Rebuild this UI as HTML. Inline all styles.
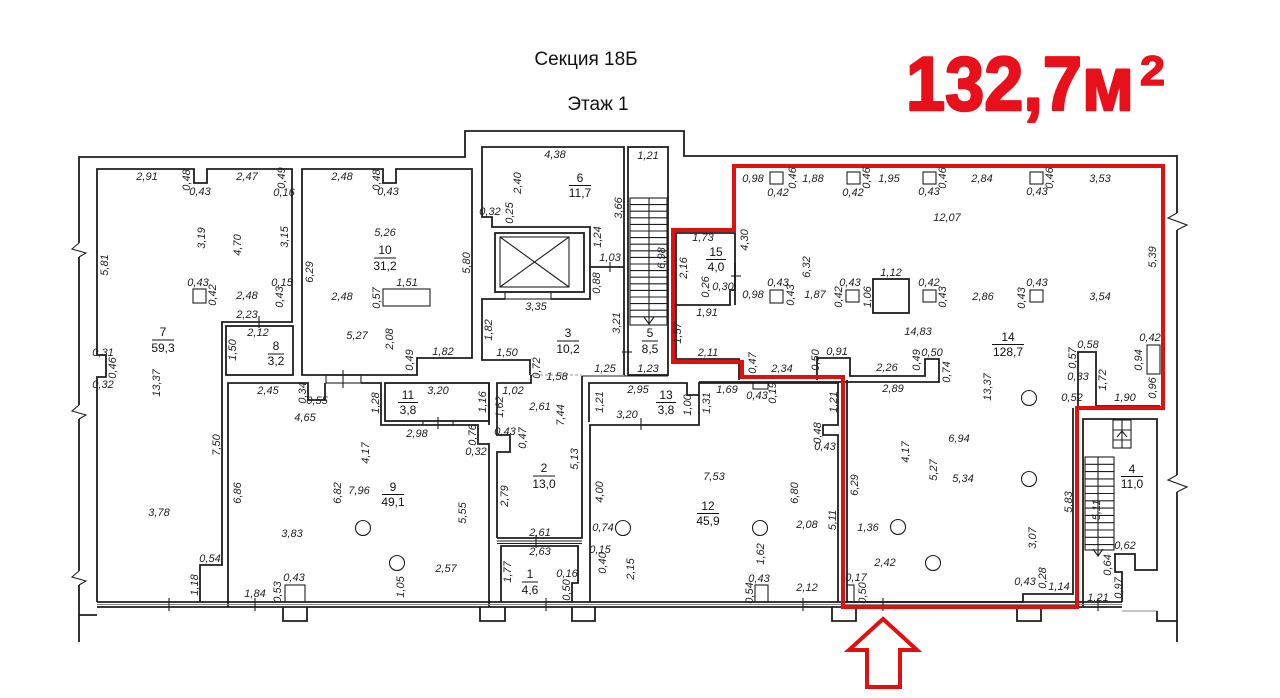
<!DOCTYPE html>
<html><head><meta charset="utf-8">
<style>
html,body{margin:0;padding:0;background:#fff;}
svg{display:block;}
.d{font-family:"Liberation Sans",sans-serif;font-style:italic;font-size:11px;text-anchor:middle;dominant-baseline:central;fill:#222;}
.r{font-family:"Liberation Sans",sans-serif;font-size:12px;text-anchor:middle;dominant-baseline:central;fill:#111;}
.w{fill:none;stroke:#1e1e1e;stroke-width:1.8;}
.t{fill:none;stroke:#1e1e1e;stroke-width:1.1;}
.g{fill:none;stroke:#888;stroke-width:1;}
</style></head>
<body>
<svg width="1280" height="698" viewBox="0 0 1280 698" xmlns="http://www.w3.org/2000/svg">
<rect width="1280" height="698" fill="#fff"/>

<!-- titles -->
<text x="586" y="65" font-family="Liberation Sans, sans-serif" font-size="19" text-anchor="middle" fill="#111">Секция 18Б</text>
<text x="598" y="110" font-family="Liberation Sans, sans-serif" font-size="19" text-anchor="middle" fill="#111">Этаж 1</text>
<text x="906" y="110" font-family="Liberation Sans, sans-serif" font-weight="bold" font-size="76" fill="#e8101a" stroke="#e8101a" stroke-width="2.5" stroke-linejoin="round" textLength="228" lengthAdjust="spacingAndGlyphs">132,7м</text>
<text x="1140" y="85" font-family="Liberation Sans, sans-serif" font-weight="bold" font-size="42" fill="#e8101a" stroke="#e8101a" stroke-width="1.5" stroke-linejoin="round" textLength="25" lengthAdjust="spacingAndGlyphs">2</text>

<!-- outer building -->
<path class="w" d="M79,642 V157 H465 V131 H684 V156 H1177 V642"/>
<path class="w" d="M79,615 H97"/>
<!-- zigzags -->
<g>
<line x1="79" y1="243" x2="79" y2="257" stroke="#fff" stroke-width="4"/>
<polyline class="t" points="79,243 72,249 86,253 79,257"/>
<line x1="79" y1="405" x2="79" y2="419" stroke="#fff" stroke-width="4"/>
<polyline class="t" points="79,405 72,411 86,415 79,419"/>
<line x1="79" y1="571" x2="79" y2="585" stroke="#fff" stroke-width="4"/>
<polyline class="t" points="79,571 72,577 86,581 79,585"/>
<line x1="1177" y1="213" x2="1177" y2="230" stroke="#fff" stroke-width="4"/>
<polyline class="t" points="1177,213 1168,218 1187,225 1177,230"/>
<line x1="1177" y1="475" x2="1177" y2="492" stroke="#fff" stroke-width="4"/>
<polyline class="t" points="1177,475 1168,480 1187,487 1177,492"/>
</g>

<!-- Room 7 -->
<path class="w" d="M97,602 V377 H106 V355 H97 V169 H194 V183 H207 V169 H292 V322 H222 V565 H200 V602"/>
<rect class="t" x="193" y="289" width="13" height="14"/>
<line class="t" x1="259" y1="316" x2="259" y2="328"/>
<!-- Room 8 -->
<rect class="w" x="226" y="326" width="67" height="49"/>
<!-- Room 10 -->
<path class="w" d="M302,375 V169 H383 V183 H396 V169 H472 V358 H417 V375 Z"/>
<rect class="t" x="383" y="289" width="47" height="17"/>
<!-- door 10/9 -->
<rect class="t" x="326" y="375" width="35" height="8"/>
<line class="t" x1="343" y1="370" x2="343" y2="388"/>
<!-- Room 9 -->
<path class="w" d="M228,607 V383 H308 V400 H325 V383 M361,383 H381 V425 H478 V444 H489 V607"/>
<circle class="t" cx="363" cy="528" r="7.5"/>
<circle class="t" cx="397" cy="563" r="7.5"/>
<rect class="t" x="285" y="585" width="20" height="17"/>
<!-- Room 11 -->
<rect class="w" x="385" y="383" width="104" height="38"/>
<line class="t" x1="438" y1="417" x2="438" y2="429"/>
<line class="t" x1="423" y1="421" x2="423" y2="425"/>
<line class="t" x1="453" y1="421" x2="453" y2="425"/>

<!-- Room 6 -->
<path class="w" d="M624,267 H590 V227 H492 V217 H482 V147 H624 V375"/>
<line class="t" x1="610" y1="262" x2="610" y2="272"/>
<!-- shaft -->
<path class="w" d="M590,267 V299 H551 M505,299 H482 V360 H530 V375"/>
<rect class="w" x="495" y="233" width="89" height="59"/>
<rect class="t" x="500" y="237" width="69" height="50"/>
<line class="t" x1="500" y1="237" x2="569" y2="287"/>
<line class="t" x1="569" y1="237" x2="500" y2="287"/>
<rect class="t" x="505" y="292" width="46" height="7"/>
<line x1="530" y1="375" x2="582" y2="375" stroke="#999" stroke-width="1" stroke-dasharray="3,2"/>
<!-- Room 5 stairs -->
<rect class="w" x="628" y="147" width="40" height="228"/>
<g class="t">
<rect x="630" y="198" width="37" height="127" class="t"/>
<path class="t" d="M630,204.6H667M630,211.2H667M630,217.8H667M630,224.4H667M630,231H667M630,237.6H667M630,244.2H667M630,250.8H667M630,257.4H667M630,264H667M630,270.6H667M630,277.2H667M630,283.8H667M630,290.4H667M630,297H667M630,303.6H667M630,310.2H667M630,316.8H667"/>
<line class="t" x1="649" y1="198" x2="649" y2="324"/>
<polyline class="t" points="644,317 649,324 654,317"/>
</g>
<line class="t" x1="622" y1="352" x2="632" y2="352"/>
<path class="t" d="M582,376 H668 M625,375 V376"/>

<!-- Room 15 -->
<path class="w" d="M676,305 V233 H735 V290 H730 V305 Z"/>
<line class="t" x1="731" y1="276" x2="741" y2="276"/>
<path class="w" d="M676,305 V359 H739 V380"/>
<path class="w" d="M735,263 V305"/>

<!-- Room 14 columns -->
<g class="t">
<rect x="770" y="172" width="13" height="12"/>
<rect x="847" y="172" width="13" height="12"/>
<rect x="923" y="172" width="13" height="12"/>
<rect x="1030" y="172" width="13" height="12"/>
<rect x="770" y="290" width="13" height="13"/>
<rect x="846" y="290" width="13" height="12"/>
<rect x="923" y="290" width="13" height="12"/>
<rect x="1030" y="290" width="13" height="12"/>
<rect x="873" y="279" width="36" height="34" class="w"/>
<rect x="1147" y="345" width="13" height="29"/>
</g>
<path class="w" d="M817,380 V358 H850 V376 H925 V359 H939 V382 H699"/>
<path class="w" d="M1078,406 V352 H1096 V406 H1160"/>
<path class="w" d="M847,380 V602 H1023 V594 H1073 V408"/>
<rect class="t" x="847" y="585" width="7" height="17"/>
<circle class="t" cx="1029" cy="398" r="7.5"/>
<circle class="t" cx="1029" cy="479" r="7.5"/>
<circle class="t" cx="898" cy="527" r="7.5"/>
<circle class="t" cx="933" cy="563" r="7.5"/>

<!-- Room 12 -->
<path class="w" d="M590,602 V425 H699 V383 H838 V425 H823 V435 H838 V602"/>
<rect class="t" x="753" y="383" width="15" height="6"/>
<rect class="t" x="755" y="585" width="13" height="17"/>
<circle class="t" cx="623" cy="528" r="7.5"/>
<circle class="t" cx="760" cy="528" r="7.5"/>
<!-- Room 13 -->
<path class="w" d="M589,422 V383 H687 V395 H699"/>
<line class="t" x1="641" y1="418" x2="641" y2="430"/>
<!-- Room 2 -->
<path class="w" d="M497,538 V452 H510 V435 H497 V383 H531 V375 M582,376 V538 H497"/>
<path class="t" d="M497,541 H582 M497,543.5 H582"/>
<line class="t" x1="536" y1="535" x2="536" y2="548"/>
<!-- Room 1 -->
<path class="w" d="M501,602 V546 H578 V583 H572 V602"/>
<!-- room 9 right / room 11 right -->
<path class="w" d="M489,383 V425"/>

<!-- Room 4 -->
<path class="w" d="M1083,607 V419 H1157 V570 H1135 V554 H1115 V572 H1122 V602"/>
<rect class="t" x="1085" y="457" width="29" height="93"/>
<path class="t" d="M1085,464.3H1114M1085,471.6H1114M1085,478.9H1114M1085,486.2H1114M1085,493.5H1114M1085,500.8H1114M1085,508.1H1114M1085,515.4H1114M1085,522.7H1114M1085,530H1114M1085,537.3H1114M1085,544.6H1114"/>
<line class="t" x1="1098" y1="457" x2="1098" y2="556"/>
<polyline class="t" points="1093,549 1098,556 1103,549"/>
<rect class="t" x="1113" y="420" width="18" height="28"/>
<path class="t" d="M1113,430H1131M1113,440H1131M1122,420V448"/>
<polyline class="t" points="1117,437 1122,431 1127,437"/>

<!-- facade -->
<path class="w" d="M97,602 H1122 M97,607 H1122"/>
<path class="g" d="M97,604.5 H1122"/>
<g class="t">
<line x1="169" y1="598" x2="169" y2="611"/>
<line x1="255" y1="598" x2="255" y2="611"/>
<line x1="546" y1="598" x2="546" y2="611"/>
<line x1="803" y1="598" x2="803" y2="611"/>
<line x1="883" y1="598" x2="883" y2="611"/>
<line x1="1098" y1="598" x2="1098" y2="611"/>
</g>
<path class="w" d="M283,607 V621 H307 V607 M480,607 V621 H505 V607 M572,607 V621 H595 V607 M832,607 V621 H856 V607 M1017,607 V621 H1041 V607"/>
<path class="g" d="M1122,611 H1157"/>
<path class="w" d="M1157,611 V621 H1177"/>

<!-- red boundary -->
<path d="M673,230 H734 V166 H1163 V408 H1077 V607 H843 V377 H742 V362 H673 Z" fill="none" stroke="#e01010" stroke-width="4" stroke-linejoin="miter"/>
<!-- red arrow -->
<path d="M883,619 L849,650 L867,650 L867,687 L900,687 L900,650 L917,650 Z" fill="#fff" stroke="#e01010" stroke-width="4" stroke-linejoin="miter"/>

<!-- room labels -->
<g class="r">
<text x="163" y="332">7</text><text x="163" y="348">59,3</text>
<text x="276" y="346">8</text><text x="276" y="361">3,2</text>
<text x="385" y="250">10</text><text x="385" y="266">31,2</text>
<text x="580" y="178">6</text><text x="580" y="193">11,7</text>
<text x="568" y="333">3</text><text x="568" y="349">10,2</text>
<text x="650" y="333">5</text><text x="650" y="349">8,5</text>
<text x="716" y="252">15</text><text x="716" y="267">4,0</text>
<text x="1008" y="337">14</text><text x="1008" y="352">128,7</text>
<text x="408" y="395">11</text><text x="408" y="410">3,8</text>
<text x="393" y="487">9</text><text x="393" y="502">49,1</text>
<text x="544" y="468">2</text><text x="544" y="484">13,0</text>
<text x="530" y="574">1</text><text x="530" y="590">4,6</text>
<text x="666" y="395">13</text><text x="666" y="410">3,8</text>
<text x="708" y="506">12</text><text x="708" y="521">45,9</text>
<text x="1132" y="469">4</text><text x="1132" y="484">11,0</text>
</g>
<g stroke="#111" stroke-width="1">
<line x1="152" y1="340" x2="174" y2="340"/>
<line x1="268" y1="354" x2="284" y2="354"/>
<line x1="374" y1="258" x2="396" y2="258"/>
<line x1="569" y1="185.5" x2="591" y2="185.5"/>
<line x1="557" y1="341" x2="579" y2="341"/>
<line x1="642" y1="341" x2="658" y2="341"/>
<line x1="706" y1="259.5" x2="726" y2="259.5"/>
<line x1="992" y1="344.5" x2="1024" y2="344.5"/>
<line x1="398" y1="402.5" x2="418" y2="402.5"/>
<line x1="382" y1="494.5" x2="404" y2="494.5"/>
<line x1="533" y1="476" x2="555" y2="476"/>
<line x1="522" y1="582" x2="538" y2="582"/>
<line x1="656" y1="402.5" x2="676" y2="402.5"/>
<line x1="697" y1="513.5" x2="719" y2="513.5"/>
<line x1="1121" y1="476.5" x2="1143" y2="476.5"/>
</g>

<!-- horizontal dimension labels -->
<g class="d">
<text x="147" y="177">2,91</text><text x="200" y="192">0,43</text><text x="247" y="177">2,47</text><text x="284" y="193">0,16</text>
<text x="198" y="283">0,43</text><text x="247" y="296">2,48</text><text x="282" y="283">0,15</text><text x="247" y="315">2,23</text>
<text x="103" y="353">0,31</text><text x="103" y="385">0,32</text><text x="258" y="333">2,12</text>
<text x="342" y="177">2,48</text><text x="388" y="192">0,43</text><text x="385" y="233">5,26</text><text x="407" y="283">1,51</text>
<text x="342" y="297">2,48</text><text x="357" y="336">5,27</text><text x="443" y="352">1,82</text>
<text x="555" y="155">4,38</text><text x="490" y="212">0,32</text><text x="610" y="258">1,03</text><text x="536" y="307">3,35</text>
<text x="507" y="353">1,50</text><text x="557" y="377">1,58</text><text x="605" y="369">1,25</text><text x="648" y="156">1,21</text><text x="648" y="369">1,23</text>
<text x="703" y="238">1,73</text><text x="723" y="287">0,30</text><text x="707" y="313">1,91</text><text x="708" y="353">2,11</text>
<text x="782" y="369">2,34</text><text x="837" y="352">0,91</text>
<text x="753" y="179">0,98</text><text x="778" y="193">0,42</text><text x="813" y="179">1,88</text><text x="853" y="193">0,42</text>
<text x="753" y="295">0,98</text><text x="778" y="283">0,43</text><text x="815" y="295">1,87</text><text x="850" y="283">0,43</text>
<text x="889" y="179">1,95</text><text x="929" y="192">0,43</text><text x="982" y="179">2,84</text><text x="1037" y="192">0,43</text><text x="1100" y="179">3,53</text>
<text x="947" y="218">12,07</text><text x="891" y="273">1,12</text><text x="929" y="283">0,42</text><text x="983" y="297">2,86</text><text x="1037" y="283">0,43</text><text x="1100" y="297">3,54</text>
<text x="918" y="332">14,83</text><text x="1150" y="338">0,42</text><text x="1088" y="345">0,58</text><text x="1078" y="377">0,33</text>
<text x="1072" y="398">0,52</text><text x="1125" y="398">1,90</text><text x="887" y="368">2,26</text><text x="932" y="353">0,50</text><text x="893" y="389">2,89</text>
<text x="268" y="391">2,45</text><text x="317" y="401">0,55</text><text x="305" y="418">4,65</text><text x="438" y="391">3,20</text>
<text x="417" y="434">2,98</text><text x="476" y="452">0,32</text><text x="159" y="513">3,78</text><text x="359" y="491">7,96</text>
<text x="292" y="534">3,83</text><text x="446" y="569">2,57</text><text x="210" y="559">0,54</text><text x="255" y="594">1,84</text><text x="294" y="578">0,43</text>
<text x="513" y="391">1,02</text><text x="540" y="407">2,61</text><text x="505" y="432">0,43</text><text x="540" y="533">2,61</text><text x="540" y="552">2,63</text>
<text x="567" y="574">0,16</text><text x="638" y="390">2,95</text><text x="727" y="390">1,69</text><text x="757" y="396">0,43</text><text x="627" y="415">3,20</text>
<text x="825" y="447">0,43</text><text x="714" y="477">7,53</text><text x="807" y="525">2,08</text><text x="603" y="528">0,74</text><text x="600" y="550">0,15</text>
<text x="759" y="579">0,43</text><text x="807" y="588">2,12</text>
<text x="959" y="439">6,94</text><text x="963" y="479">5,34</text><text x="868" y="528">1,36</text><text x="885" y="563">2,42</text>
<text x="856" y="578">0,17</text><text x="1025" y="582">0,43</text><text x="1059" y="587">1,14</text>
<text x="1125" y="546">0,62</text><text x="1098" y="598">1,21</text>
</g>

<!-- vertical dimension labels -->
<g class="d">
<text transform="translate(187 180) rotate(-90)">0,48</text>
<text transform="translate(282 178) rotate(-90)">0,49</text>
<text transform="translate(202 238) rotate(-90)">3,19</text>
<text transform="translate(238 245) rotate(-90)">4,70</text>
<text transform="translate(285 237) rotate(-90)">3,15</text>
<text transform="translate(105 265) rotate(-90)">5,81</text>
<text transform="translate(213 295) rotate(-90)">0,42</text>
<text transform="translate(280 297) rotate(-90)">0,43</text>
<text transform="translate(113 368) rotate(-90)">0,46</text>
<text transform="translate(157 383) rotate(-90)">13,37</text>
<text transform="translate(233 350) rotate(-90)">1,50</text>
<text transform="translate(377 180) rotate(-90)">0,48</text>
<text transform="translate(467 263) rotate(-90)">5,80</text>
<text transform="translate(310 272) rotate(-90)">6,29</text>
<text transform="translate(377 298) rotate(-90)">0,57</text>
<text transform="translate(390 339) rotate(-90)">2,08</text>
<text transform="translate(410 360) rotate(-90)">0,49</text>
<text transform="translate(518 183) rotate(-90)">2,40</text>
<text transform="translate(619 208) rotate(-90)">3,66</text>
<text transform="translate(510 213) rotate(-90)">0,25</text>
<text transform="translate(598 237) rotate(-90)">1,24</text>
<text transform="translate(597 283) rotate(-90)">0,88</text>
<text transform="translate(489 330) rotate(-90)">1,82</text>
<text transform="translate(617 323) rotate(-90)">3,21</text>
<text transform="translate(537 368) rotate(-90)">0,72</text>
<text transform="translate(662 258) rotate(-90)">6,98</text>
<text transform="translate(684 268) rotate(-90)">2,16</text>
<text transform="translate(745 240) rotate(-90)">4,30</text>
<text transform="translate(706 287) rotate(-90)">0,26</text>
<text transform="translate(678 333) rotate(-90)">1,57</text>
<text transform="translate(753 363) rotate(-90)">0,47</text>
<text transform="translate(816 360) rotate(-90)">0,50</text>
<text transform="translate(793 178) rotate(-90)">0,46</text>
<text transform="translate(791 295) rotate(-90)">0,43</text>
<text transform="translate(807 267) rotate(-90)">6,32</text>
<text transform="translate(839 297) rotate(-90)">0,42</text>
<text transform="translate(867 178) rotate(-90)">0,46</text>
<text transform="translate(943 178) rotate(-90)">0,46</text>
<text transform="translate(1050 178) rotate(-90)">0,46</text>
<text transform="translate(1153 257) rotate(-90)">5,39</text>
<text transform="translate(868 297) rotate(-90)">1,06</text>
<text transform="translate(943 297) rotate(-90)">0,43</text>
<text transform="translate(1022 298) rotate(-90)">0,43</text>
<text transform="translate(1139 360) rotate(-90)">0,94</text>
<text transform="translate(1153 388) rotate(-90)">0,96</text>
<text transform="translate(1073 358) rotate(-90)">0,57</text>
<text transform="translate(1103 380) rotate(-90)">1,72</text>
<text transform="translate(917 360) rotate(-90)">0,49</text>
<text transform="translate(947 372) rotate(-90)">0,74</text>
<text transform="translate(988 387) rotate(-90)">13,37</text>
<text transform="translate(303 393) rotate(-90)">0,34</text>
<text transform="translate(376 403) rotate(-90)">1,28</text>
<text transform="translate(483 402) rotate(-90)">1,16</text>
<text transform="translate(473 435) rotate(-90)">0,76</text>
<text transform="translate(366 453) rotate(-90)">4,17</text>
<text transform="translate(217 445) rotate(-90)">7,50</text>
<text transform="translate(238 493) rotate(-90)">6,86</text>
<text transform="translate(338 493) rotate(-90)">6,82</text>
<text transform="translate(463 513) rotate(-90)">5,55</text>
<text transform="translate(195 585) rotate(-90)">1,18</text>
<text transform="translate(278 592) rotate(-90)">0,53</text>
<text transform="translate(401 587) rotate(-90)">1,05</text>
<text transform="translate(500 407) rotate(-90)">1,62</text>
<text transform="translate(561 415) rotate(-90)">7,44</text>
<text transform="translate(523 438) rotate(-90)">0,47</text>
<text transform="translate(575 459) rotate(-90)">5,13</text>
<text transform="translate(505 496) rotate(-90)">2,79</text>
<text transform="translate(508 572) rotate(-90)">1,77</text>
<text transform="translate(567 590) rotate(-90)">0,50</text>
<text transform="translate(600 402) rotate(-90)">1,21</text>
<text transform="translate(688 405) rotate(-90)">1,00</text>
<text transform="translate(707 403) rotate(-90)">1,31</text>
<text transform="translate(773 393) rotate(-90)">0,19</text>
<text transform="translate(834 402) rotate(-90)">1,21</text>
<text transform="translate(818 433) rotate(-90)">0,48</text>
<text transform="translate(600 492) rotate(-90)">4,00</text>
<text transform="translate(795 493) rotate(-90)">6,80</text>
<text transform="translate(833 520) rotate(-90)">5,11</text>
<text transform="translate(603 563) rotate(-90)">0,40</text>
<text transform="translate(631 569) rotate(-90)">2,15</text>
<text transform="translate(761 554) rotate(-90)">1,62</text>
<text transform="translate(750 593) rotate(-90)">0,54</text>
<text transform="translate(855 485) rotate(-90)">6,29</text>
<text transform="translate(906 452) rotate(-90)">4,17</text>
<text transform="translate(934 470) rotate(-90)">5,27</text>
<text transform="translate(1069 502) rotate(-90)">5,83</text>
<text transform="translate(1033 538) rotate(-90)">3,07</text>
<text transform="translate(863 593) rotate(-90)">0,50</text>
<text transform="translate(1043 578) rotate(-90)">0,28</text>
<text transform="translate(1097 510) rotate(-90)">5,11</text>
<text transform="translate(1108 565) rotate(-90)">0,64</text>
<text transform="translate(1119 588) rotate(-90)">0,97</text>
</g>
</svg>
</body></html>
